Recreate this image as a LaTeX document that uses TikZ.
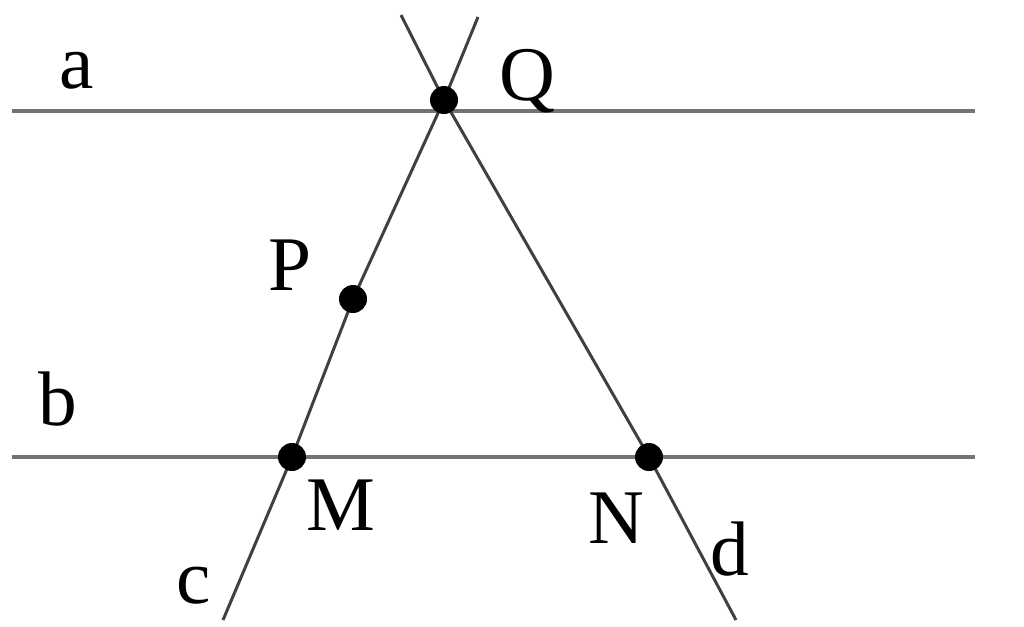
\documentclass[tikz,border=0pt]{standalone}
\usepackage{fontspec}
\setmainfont{Liberation Serif}
\usetikzlibrary{positioning, calc}
\tikzset{
  parline/.style={line width=2.3pt, black!55},
  cutline/.style={line width=1.7pt, black!75},
  pt/.style={circle, fill=black, inner sep=0pt, minimum size=0.56cm},
  lbl/.style={font=\fontsize{44}{46}\selectfont, inner sep=0pt, anchor=base},
}
\begin{document}
\begin{tikzpicture}[x=0.02cm, y=-0.02cm]
	\useasboundingbox (0,0) rectangle (1024,626);
	% points
	\coordinate (Q) at (444,100);
	\coordinate (P) at (353,299);
	\coordinate (M) at (292,457);
	\coordinate (N) at (649,457);
	% free ends of the lines
	\coordinate (a1) at (12,111);  \coordinate (a2) at (975,111);
	\coordinate (b1) at (12,457);  \coordinate (b2) at (975,457);
	\coordinate (c1) at (478,17);  \coordinate (c2) at (223,620);
	\coordinate (d1) at (401,15);  \coordinate (d2) at (736,620);
	\draw[parline] (a1) -- (a2);
	\draw[parline] (b1) -- (b2);
	\draw[cutline] (c1) -- (Q) -- (P) -- (M) -- (c2);
	\draw[cutline] (d1) -- (Q) -- (N) -- (d2);
	\node[pt] (q) at (Q) {};
	\node[pt] (p) at (P) {};
	\node[pt] (m) at (M) {};
	\node[pt] (n) at (N) {};
	% labels
	\node[lbl] (la) at (77,88) {a};
	\node[lbl] (lb) at (58,425) {b};
	\node[lbl] (lc) at (194,603) {c};
	\node[lbl] (ld) at (730,575) {d};
	\node[lbl] (lq) at (527,100) {Q};
	\node[lbl] (lp) at (290,290) {P};
	\node[lbl] (lm) at (341,530) {M};
	\node[lbl] (ln) at (616,543) {N};
\end{tikzpicture}
\end{document}
